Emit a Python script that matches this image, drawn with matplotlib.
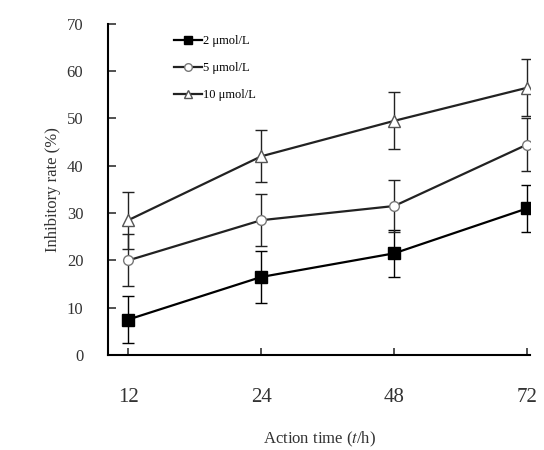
import matplotlib
matplotlib.use('Agg')
import matplotlib.pyplot as plt
from matplotlib.lines import Line2D

times = ['12', '24', '48', '72']
conc_2 = [7.5, 16.5, 21.5, 31.0]
err_2 = [5.0, 5.5, 5.0, 5.0]
conc_5 = [20.0, 28.5, 31.5, 44.5]
err_5 = [5.5, 5.5, 5.5, 5.5]
conc_10 = [28.5, 42.0, 49.5, 56.5]
err_10 = [6.0, 5.5, 6.0, 6.0]
labels = ['2 μmol/L', '5 μmol/L', '10 μmol/L']

plt.rcParams['font.family'] = ['Liberation Serif', 'DejaVu Serif']
plt.rcParams['mathtext.fontset'] = 'stix'

fig = plt.figure(figsize=(5.44, 4.5), dpi=100)
ax = fig.add_axes([0.199, 0.211, 0.775, 0.736])

x = list(range(len(times)))
ax.errorbar(x, conc_2, yerr=err_2, color='black', lw=1.6, marker='s', ms=8,
            mfc='black', capsize=4, elinewidth=1)
ax.errorbar(x, conc_5, yerr=err_5, color='#222222', lw=1.6, marker='o', ms=7,
            mfc='white', mec='#777777', capsize=4, elinewidth=1)
ax.errorbar(x, conc_10, yerr=err_10, color='#222222', lw=1.6, marker='^', ms=8,
            mfc='white', mec='#555555', capsize=4, elinewidth=1)

handles = [
    Line2D([], [], color='black', lw=1.6, marker='s', ms=6, mfc='black'),
    Line2D([], [], color='#222222', lw=1.6, marker='o', ms=5.5, mfc='white', mec='#777777'),
    Line2D([], [], color='#222222', lw=1.6, marker='^', ms=6, mfc='white', mec='#555555'),
]

ax.set_xlim(-0.15, 3.02)
ax.set_ylim(0, 70)
ax.set_yticks(range(0, 71, 10))
ax.set_xticks(x)
ax.set_xticklabels(times)
ax.spines['top'].set_visible(False)
ax.spines['right'].set_visible(False)
ax.spines['left'].set_linewidth(1.5)
ax.spines['bottom'].set_linewidth(1.5)
ax.tick_params(axis='y', direction='in', length=6, width=1.2, pad=18, labelsize=12, colors='#333333')
ax.tick_params(axis='x', direction='in', length=5, width=1.2, pad=24, labelsize=15, colors='#333333')

ax.set_xlabel(r'Action time ($\it{t}$/h)', fontsize=12, labelpad=16, color='#333333')
ax.set_ylabel('Inhibitory rate (%)', fontsize=12, labelpad=4, color='#333333')

ax.legend(handles, labels, loc='upper left', bbox_to_anchor=(0.13, 1.0), frameon=False,
          fontsize=9, handlelength=2.2, handletextpad=0.1, labelspacing=1.2)

fig.savefig('out.png', dpi=100)
